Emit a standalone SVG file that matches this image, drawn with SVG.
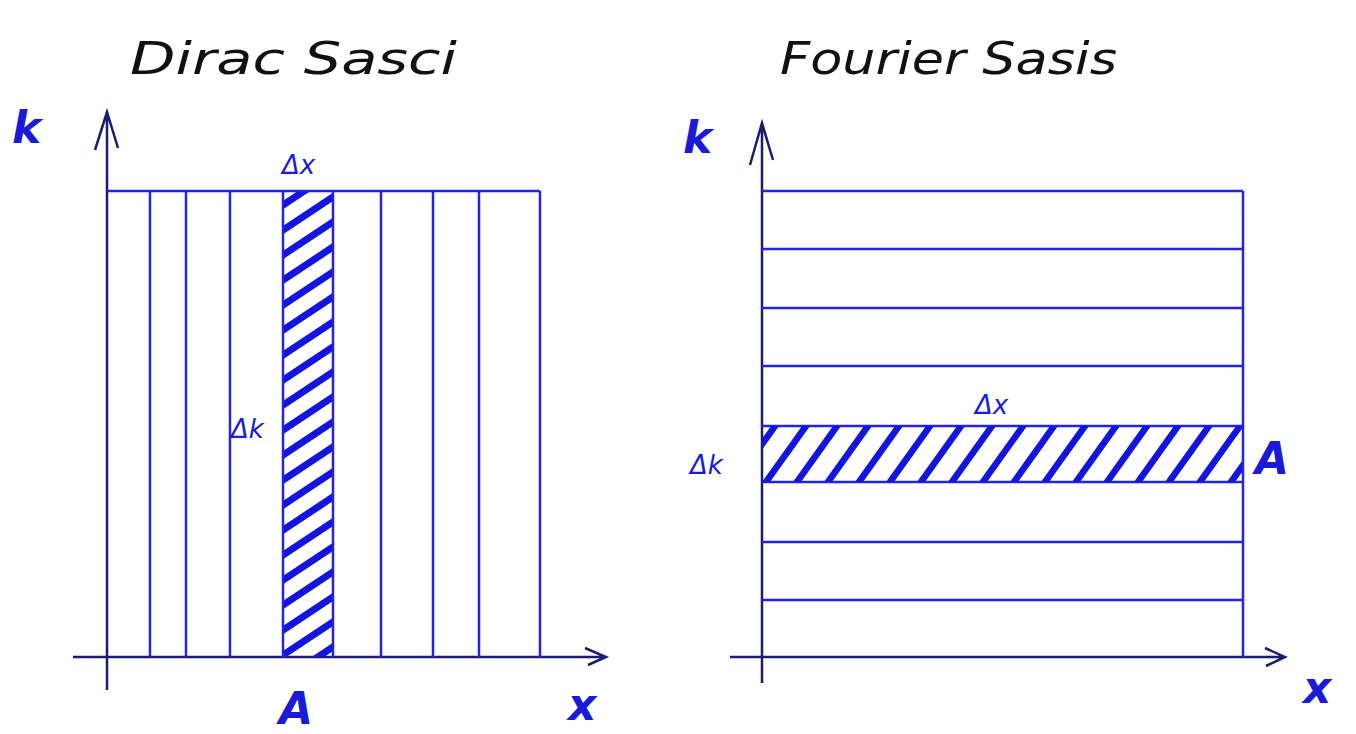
<svg xmlns="http://www.w3.org/2000/svg" width="1356" height="734" viewBox="0 0 1356 734">
<defs>
<style>
.title{font-family:"DejaVu Sans",sans-serif;font-style:italic;font-size:44px;fill:#111}
.lbl{font-family:"DejaVu Sans",sans-serif;font-style:italic;fill:#1a1ad8}
.big{font-size:44px;font-weight:bold}
.sm{font-size:26px}
.axis{stroke:#1c1c70;stroke-width:2.5;fill:none}
.grid{stroke:#2323e6;stroke-width:2.5;fill:none}
.hatch{stroke:#1414e0;stroke-width:7;stroke-linecap:round;fill:none}
.hatch2{stroke:#1414e0;stroke-width:6.5;stroke-linecap:round;fill:none}
</style>
<clipPath id="clipL"><rect x="284" y="192" width="48" height="465"/></clipPath>
<clipPath id="clipR"><rect x="763" y="426" width="479" height="56"/></clipPath>
</defs>
<rect width="1356" height="734" fill="#ffffff"/>

<g id="dirac">
  <text class="title" x="130" y="74" textLength="327" lengthAdjust="spacingAndGlyphs">Dirac Sasci</text>
  <g id="dirac-axes">
    <path class="axis" d="M107 690 V112 M95 150 L107 112 L118 148"/>
    <path class="axis" d="M73 657 H606 M585 648 L606 657 L588 665"/>
  </g>
  <g id="dirac-grid">
    <path class="grid" d="M107 191 H540 M150 191 V657 M186 191 V657 M230 191 V657 M283 191 V657 M333 191 V657 M381 191 V657 M433 191 V657 M479 191 V657 M540 191 V657"/>
  </g>
  <g id="dirac-hatch" clip-path="url(#clipL)">
    <path class="hatch" d="M283 205 L333 172 M283 230 L333 197 M283 255 L333 222 M283 280 L333 247 M283 305 L333 272 M283 330 L333 297 M283 355 L333 322 M283 380 L333 347 M283 405 L333 372 M283 430 L333 397 M283 455 L333 422 M283 480 L333 447 M283 505 L333 472 M283 530 L333 497 M283 555 L333 522 M283 580 L333 547 M283 605 L333 572 M283 630 L333 597 M283 655 L333 622 M283 680 L333 647"/>
  </g>
  <text class="lbl big" x="12" y="143">k</text>
  <text class="lbl sm" x="282" y="174">Δx</text>
  <text class="lbl sm" x="231" y="438">Δk</text>
  <text class="lbl big" x="279" y="724">A</text>
  <text class="lbl big" x="568" y="720">x</text>
</g>

<g id="fourier">
  <text class="title" x="780" y="74" textLength="337" lengthAdjust="spacingAndGlyphs">Fourier Sasis</text>
  <g id="fourier-axes">
    <path class="axis" d="M762 683 V123 M750 165 L762 123 L773 160"/>
    <path class="axis" d="M730 657 H1285 M1265 648 L1285 657 L1266 666"/>
  </g>
  <g id="fourier-grid">
    <path class="grid" d="M762 191 H1243 M762 249 H1243 M762 308 H1243 M762 366 H1243 M762 426 H1243 M762 482 H1243 M762 542 H1243 M762 600 H1243 M1243 191 V657"/>
  </g>
  <g id="fourier-hatch" clip-path="url(#clipR)">
    <path class="hatch2" d="M735 482 L775 426 M766 482 L806 426 M797 482 L837 426 M828 482 L868 426 M859 482 L899 426 M890 482 L930 426 M921 482 L961 426 M952 482 L992 426 M983 482 L1023 426 M1014 482 L1054 426 M1045 482 L1085 426 M1076 482 L1116 426 M1107 482 L1147 426 M1138 482 L1178 426 M1169 482 L1209 426 M1200 482 L1240 426 M1231 482 L1271 426"/>
  </g>
  <text class="lbl big" x="683" y="153">k</text>
  <text class="lbl sm" x="975" y="414">Δx</text>
  <text class="lbl sm" x="690" y="474">Δk</text>
  <text class="lbl big" x="1255" y="474">A</text>
  <text class="lbl big" x="1303" y="703">x</text>
</g>
</svg>
